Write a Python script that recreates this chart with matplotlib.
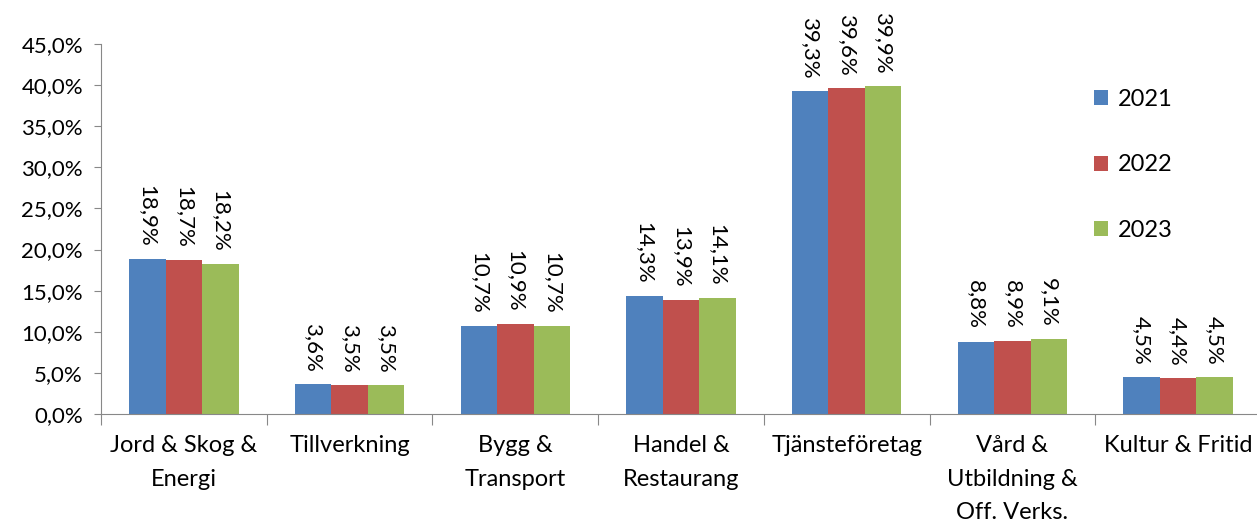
import matplotlib
matplotlib.use("Agg")
import matplotlib.pyplot as plt
import numpy as np

categories = ["Jord & Skog &\nEnergi", "Tillverkning", "Bygg &\nTransport", "Handel &\nRestaurang",
              "Tjänsteföretag", "Vård &\nUtbildning &\nOff. Verks.", "Kultur & Fritid"]
years = ["2021", "2022", "2023"]
v2021 = [18.9, 3.6, 10.7, 14.3, 39.3, 8.8, 4.5]
v2022 = [18.7, 3.5, 10.9, 13.9, 39.6, 8.9, 4.4]
v2023 = [18.2, 3.5, 10.7, 14.1, 39.9, 9.1, 4.5]
colors = ["#4F81BD", "#C0504D", "#9BBB59"]

W, H = 1257, 523
plt.rcParams['font.family'] = ['Lato', 'DejaVu Sans']
fig = plt.figure(figsize=(W/100, H/100), dpi=100)
L, R, T, B = 101, 1261, 44, 414
ax = fig.add_axes([L/W, 1 - B/H, (R-L)/W, (B-T)/H])

FS = 16
x = np.arange(len(categories))
w = 0.22
for i, (vals, col, yr) in enumerate(zip([v2021, v2022, v2023], colors, years)):
    pos = x + (i - 1) * w
    ax.bar(pos, vals, width=w, color=col, label=yr, zorder=2)
    for p, v in zip(pos, vals):
        ax.text(p, v + 1.5, f"{v:.1f}".replace(".", ",") + "%", rotation=270,
                ha="center", va="bottom", fontsize=FS)

ax.set_xlim(-0.5, len(categories) - 0.5)
ax.set_ylim(0, 45)
yt = np.arange(0, 46, 5)
ax.set_yticks(yt)
ax.set_yticklabels([f"{t:.1f}".replace(".", ",") + "%" for t in yt], fontsize=FS)
ax.set_xticks(np.arange(-0.5, len(categories), 1))
ax.set_xticklabels([])
ax.set_xticks(x, minor=True)
ax.set_xticklabels(categories, minor=True, fontsize=17, linespacing=1.75)
ax.tick_params(axis="x", which="minor", length=0, pad=15)
ax.tick_params(axis="x", which="major", length=8, color="#888888")
ax.tick_params(axis="y", length=5, color="#888888", pad=8)
for s in ["top", "right"]:
    ax.spines[s].set_visible(False)
for s in ["left", "bottom"]:
    ax.spines[s].set_color("#888888")

leg = ax.legend(loc="upper left", bbox_to_anchor=(1094/W, 1 - 89/H), bbox_transform=fig.transFigure,
                frameon=False, fontsize=17, handlelength=0.6, handleheight=0.6,
                labelspacing=1.88, handletextpad=0.4, borderpad=0, borderaxespad=0)

fig.savefig("out.png", dpi=100)
